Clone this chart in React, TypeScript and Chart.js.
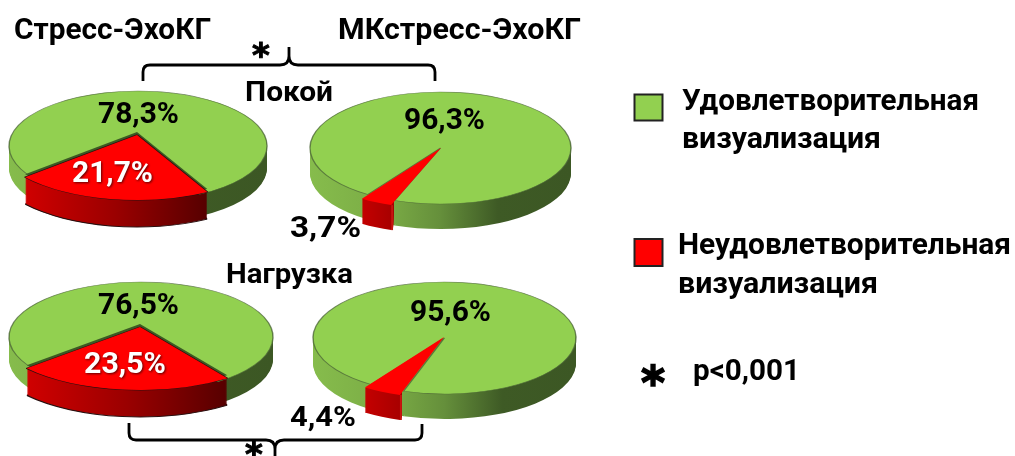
import React, { useEffect, useRef } from "react";
import { Chart, registerables } from "chart.js";

Chart.register(...registerables);

// Shares of satisfactory / unsatisfactory image quality, per protocol and stage.
const categories = ["Удовлетворительная визуализация", "Неудовлетворительная визуализация"];
const stressRest = [78.3, 21.7];
const contrastRest = [96.3, 3.7];
const stressLoad = [76.5, 23.5];
const contrastLoad = [95.6, 4.4];

const headings = ["Стресс-ЭхоКГ", "МКстресс-ЭхоКГ"];
const stages = ["Покой", "Нагрузка"];
const significance = "p<0,001";

const GREEN = "#92D050";
const RED = "#FF0000";
const FONT = "Roboto, 'Noto Sans', sans-serif";
const STAR_FONT = "'DejaVu Sans', sans-serif";

type Ellipse = { cx: number; cy: number; rx: number; ry: number };
type PieLook = {
  values: number[];
  body: Ellipse;
  slice: Ellipse;
  sliceMid: number; // direction of the red slice, degrees clockwise from east
  depth: number;
  sliceDepth: number;
  raised: boolean; // the larger slice sits proud of the body, with a dark seam
};

const looks: PieLook[] = [
  {
    values: stressRest,
    body: { cx: 138, cy: 146, rx: 129, ry: 55 },
    slice: { cx: 137, cy: 135, rx: 147, ry: 65 },
    sliceMid: 100.5,
    depth: 22,
    sliceDepth: 27,
    raised: true,
  },
  {
    values: contrastRest,
    body: { cx: 440.5, cy: 148, rx: 130.5, ry: 56 },
    slice: { cx: 441, cy: 148, rx: 142, ry: 61 },
    sliceMid: 117.2,
    depth: 25,
    sliceDepth: 25,
    raised: false,
  },
  {
    values: stressLoad,
    body: { cx: 141, cy: 337, rx: 132, ry: 55 },
    slice: { cx: 140, cy: 327, rx: 150, ry: 63 },
    sliceMid: 96.7,
    depth: 22,
    sliceDepth: 27,
    raised: true,
  },
  {
    values: contrastLoad,
    body: { cx: 444.5, cy: 338, rx: 131.5, ry: 56 },
    slice: { cx: 444, cy: 337, rx: 142, ry: 61 },
    sliceMid: 116,
    depth: 25,
    sliceDepth: 25,
    raised: false,
  },
];

// Places the library's round pie onto an ellipse in page coordinates.
function project(ctx: CanvasRenderingContext2D, arc: any, e: Ellipse, dy = 0) {
  ctx.translate(e.cx, e.cy + dy);
  ctx.scale(e.rx / arc.outerRadius, e.ry / arc.outerRadius);
  ctx.translate(-arc.x, -arc.y);
}

function paint(ctx: CanvasRenderingContext2D, arc: any, patch: Record<string, unknown>) {
  const own = arc.options;
  arc.options = { ...own, ...patch };
  arc.draw(ctx);
  arc.options = own;
}

const tiltedPie = (look: PieLook) => ({
  id: "tiltedPie",
  beforeDatasetDraw(chart: any) {
    const ctx: CanvasRenderingContext2D = chart.ctx;
    const [redArc, greenArc] = chart.getDatasetMeta(0).data;
    const R = greenArc.outerRadius;

    // Green rim, closed all the way round so no gap shows beside the red rim
    for (let i = look.depth; i >= 1; i--) {
      ctx.save();
      project(ctx, greenArc, look.body, i);
      const g = ctx.createLinearGradient(greenArc.x - R, 0, greenArc.x + R, 0);
      g.addColorStop(0, "#86BC4C");
      g.addColorStop(0.3, "#7AAB45");
      g.addColorStop(0.5, "#658F3B");
      g.addColorStop(0.72, "#3E5A25");
      g.addColorStop(1, "#3C5724");
      paint(ctx, greenArc, { backgroundColor: g, borderWidth: 0 });
      paint(ctx, redArc, { backgroundColor: g, borderWidth: 0 });
      ctx.restore();
    }

    // Red rim, limited to the span of the slice's outer edge
    const { slice } = look;
    const leftX = slice.cx + slice.rx * Math.cos(redArc.endAngle);
    const rightX = slice.cx + slice.rx * Math.cos(redArc.startAngle);
    const strip = look.raised ? 0 : 2;
    ctx.save();
    ctx.beginPath();
    ctx.rect(leftX, 0, rightX - leftX + strip, 456);
    ctx.clip();
    for (let i = look.sliceDepth; i >= 1; i--) {
      ctx.save();
      project(ctx, redArc, slice, i);
      const ax = redArc.x + R * Math.cos(redArc.endAngle);
      const bx = redArc.x + R * Math.cos(redArc.startAngle);
      const g = ctx.createLinearGradient(ax, 0, bx, 0);
      if (look.raised) {
        g.addColorStop(0, "#D00000");
        g.addColorStop(0.5, "#9A0000");
        g.addColorStop(1, "#560000");
      } else {
        g.addColorStop(0, "#C40000");
        g.addColorStop(1, "#A80000");
      }
      const outline = look.raised && i === look.sliceDepth;
      paint(ctx, redArc, {
        backgroundColor: g,
        borderWidth: outline ? 3.5 : 0,
        borderColor: "#2A1010",
      });
      ctx.restore();
    }
    if (strip) {
      // Sliver of the cut wall showing beside the thin slice
      ctx.fillStyle = "#C81410";
      const y = slice.cy + slice.ry * Math.sin(redArc.startAngle);
      ctx.fillRect(rightX, y, strip, look.sliceDepth);
    }
    ctx.restore();

    // Green face
    ctx.save();
    project(ctx, greenArc, look.body);
    paint(ctx, greenArc, { backgroundColor: GREEN, borderWidth: 2.5, borderColor: "rgba(75,100,55,0.75)" });
    ctx.restore();

    // Dark seam along the raised slice
    if (look.raised) {
      ctx.save();
      project(ctx, redArc, slice, -3);
      paint(ctx, redArc, { backgroundColor: "#3D5A24", borderWidth: 0 });
      ctx.restore();
    }

    // Red face
    ctx.save();
    project(ctx, redArc, slice);
    paint(ctx, redArc, {
      backgroundColor: RED,
      borderWidth: look.raised ? 3.5 : 0,
      borderColor: "#2A1010",
    });
    ctx.restore();
    if (look.raised) {
      ctx.save();
      project(ctx, redArc, slice);
      paint(ctx, redArc, { backgroundColor: RED, borderWidth: 0 });
      ctx.restore();
    }

    return false;
  },
});

function TiltedPie({ look }: { look: PieLook }) {
  const ref = useRef<HTMLCanvasElement>(null);
  useEffect(() => {
    const [good, poor] = look.values;
    const startAt = look.sliceMid - (poor * 3.6) / 2 + 90;
    const chart = new Chart(ref.current!, {
      type: "pie",
      data: {
        labels: [categories[1], categories[0]],
        datasets: [{ data: [poor, good], backgroundColor: [RED, GREEN], borderWidth: 0 }],
      },
      options: {
        responsive: false,
        animation: false,
        rotation: startAt,
        layout: { padding: 0 },
        events: [],
        plugins: { legend: { display: false }, tooltip: { enabled: false } },
      },
      plugins: [tiltedPie(look)],
    } as any);
    return () => chart.destroy();
  }, [look]);
  return (
    <canvas
      ref={ref}
      width={1015}
      height={456}
      style={{ position: "absolute", left: 0, top: 0, width: 1015, height: 456 }}
    />
  );
}

const pct = (v: number) => v.toFixed(1).replace(".", ",") + "%";

type Lab = { t: string; x: number; y: number; w: number; s: number; fill?: string; glow?: boolean };

function Label({ t, x, y, w, s, fill = "#000", glow }: Lab) {
  return (
    <text
      x={x}
      y={y}
      fontSize={s}
      fontWeight={700}
      fontFamily={FONT}
      fill={fill}
      textLength={w}
      lengthAdjust="spacingAndGlyphs"
      style={glow ? { filter: "drop-shadow(1px 1px 1px rgba(60,0,0,0.8))" } : undefined}
    >
      {t}
    </text>
  );
}

function Star({ x, y, s, w }: { x: number; y: number; s: number; w: number }) {
  return (
    <text x={x} y={y} textAnchor="middle" fontSize={s} fontWeight={700} fontFamily={STAR_FONT} stroke="#000" strokeWidth={w}>
      *
    </text>
  );
}

export default function App() {
  const [lineA1, ...restA] = categories[0].split(" ");
  const [lineB1, ...restB] = categories[1].split(" ");
  const labels: Lab[] = [
    { t: headings[0], x: 14, y: 39, w: 197, s: 30 },
    { t: headings[1], x: 338, y: 39, w: 243, s: 30 },
    { t: stages[0], x: 245, y: 101, w: 88, s: 27 },
    { t: stages[1], x: 226, y: 283, w: 127, s: 27 },
    { t: pct(stressRest[0]), x: 98, y: 123, w: 81, s: 30 },
    { t: pct(contrastRest[0]), x: 404, y: 129, w: 81, s: 30 },
    { t: pct(stressRest[1]), x: 72, y: 182, w: 81, s: 30, fill: "#fff", glow: true },
    { t: pct(contrastRest[1]), x: 290, y: 237, w: 71, s: 30 },
    { t: pct(stressLoad[0]), x: 98, y: 314, w: 81, s: 30 },
    { t: pct(contrastLoad[0]), x: 410, y: 321, w: 81, s: 30 },
    { t: pct(stressLoad[1]), x: 84, y: 373, w: 82, s: 30, fill: "#fff", glow: true },
    { t: pct(contrastLoad[1]), x: 290, y: 426, w: 66, s: 28 },
    { t: lineA1, x: 682, y: 110, w: 297, s: 29 },
    { t: restA.join(" "), x: 682, y: 148, w: 199, s: 29 },
    { t: lineB1, x: 678, y: 254, w: 333, s: 29 },
    { t: restB.join(" "), x: 678, y: 293, w: 200, s: 29 },
    { t: significance, x: 693, y: 380, w: 107, s: 29 },
  ];

  return (
    <div style={{ position: "fixed", left: 0, top: 0, width: 1015, height: 456, overflow: "hidden", background: "#fff" }}>
      {looks.map((look, i) => (
        <TiltedPie key={i} look={look} />
      ))}
      <svg width={1015} height={456} style={{ position: "absolute", left: 0, top: 0 }}>
        {/* Significance brackets */}
        <path
          d="M143 81 V72 Q143 65 150 65 H280 Q289 65 289 56 V47 M289 56 Q289 65 298 65 H428 Q435 65 435 72 V81"
          fill="none"
          stroke="#000"
          strokeWidth={2.8}
        />
        <path
          d="M129 423 V433 Q129 440 136 440 H266 Q275 440 275 449 V456 M275 449 Q275 440 284 440 H415 Q422 440 422 433 V424"
          fill="none"
          stroke="#000"
          strokeWidth={2.8}
        />
        {labels.map((l, i) => (
          <Label key={i} {...l} />
        ))}
        {/* Significance marks */}
        <Star x={261} y={67} s={34} w={1} />
        <Star x={254} y={466} s={34} w={1} />
        <Star x={653} y={399} s={46} w={1.5} />
        {/* Legend swatches */}
        <rect x={634.5} y={94.5} width={28} height={26} fill={GREEN} stroke="#222" strokeWidth={2} />
        <rect x={634.5} y={239} width={28} height={27} fill={RED} stroke="#222" strokeWidth={2} />
      </svg>
    </div>
  );
}
